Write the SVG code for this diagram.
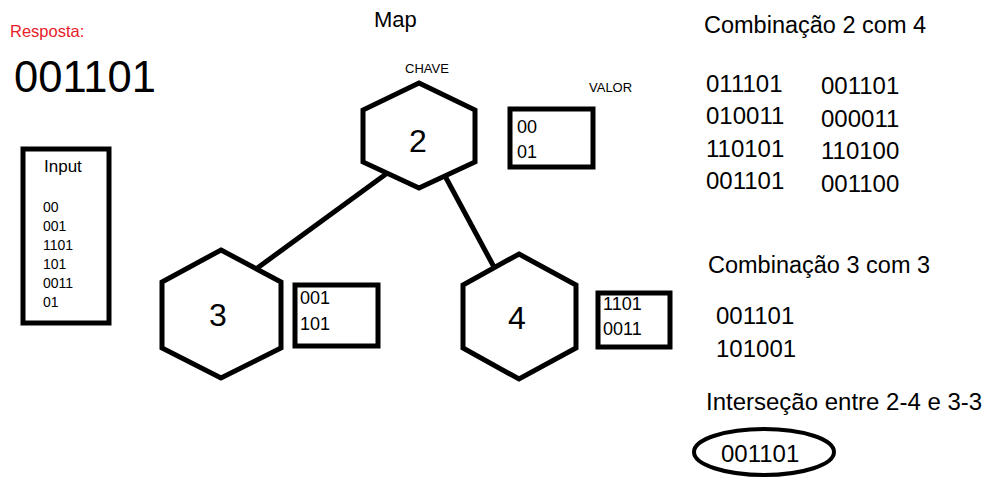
<svg xmlns="http://www.w3.org/2000/svg" width="1001" height="483" viewBox="0 0 1001 483">
<style>
text{font-family:"Liberation Sans",Arial,sans-serif;fill:#000}
.shape{fill:#fff;stroke:#000;stroke-width:5;stroke-linejoin:miter}
.edge{stroke:#000;stroke-width:5;fill:none}
.hexnum{font-size:32px;text-anchor:middle}
.val{font-size:18px}
.inp{font-size:14px}
.big{font-size:24px}
.head{font-size:23.5px}
.lbl{font-size:13px}
</style>
<rect width="1001" height="483" fill="#fff"/>
<text x="10" y="37" style="font-size:16.5px;fill:#e8202a">Resposta:</text>
<text x="14" y="92" style="font-size:43.5px">001101</text>
<text x="374" y="27" style="font-size:22px">Map</text>
<g id="input">
<rect class="shape" x="23" y="149" width="86" height="174"/>
<text x="44" y="172" style="font-size:17px">Input</text>
<text class="inp" x="43" y="212">00</text>
<text class="inp" x="43" y="231">001</text>
<text class="inp" x="43" y="250">1101</text>
<text class="inp" x="43" y="269">101</text>
<text class="inp" x="43" y="288">0011</text>
<text class="inp" x="43" y="307">01</text>
</g>
<g id="connectors">
<line class="edge" x1="386" y1="174" x2="256" y2="269"/>
<line class="edge" x1="445" y1="176" x2="494" y2="267"/>
</g>
<g id="node2">
<text class="lbl" x="405" y="73">CHAVE</text>
<polygon class="shape" points="419,83 475,110 475,162 419,188 363,162 363,110"/>
<text class="hexnum" x="418" y="152">2</text>
</g>
<g id="value2">
<text class="lbl" x="589" y="92">VALOR</text>
<rect class="shape" x="510" y="109" width="83" height="58"/>
<text class="val" x="517" y="133">00</text>
<text class="val" x="517" y="158">01</text>
</g>
<g id="node3">
<polygon class="shape" points="221,250 281,282 281,348 221,378 162,348 162,282"/>
<text class="hexnum" x="218" y="326">3</text>
</g>
<g id="value3">
<rect class="shape" x="295" y="285" width="83" height="61"/>
<text class="val" x="300" y="304">001</text>
<text class="val" x="300" y="330">101</text>
</g>
<g id="node4">
<polygon class="shape" points="519,254 576,285 576,348 519,379 463,348 463,285"/>
<text class="hexnum" x="517" y="329">4</text>
</g>
<g id="value4">
<rect class="shape" x="598" y="293" width="72" height="54"/>
<text class="val" x="603" y="310">1101</text>
<text class="val" x="603" y="335">0011</text>
</g>
<g id="comb24">
<text class="head" x="704" y="33">Combinação 2 com 4</text>
<text class="big" x="706" y="92">011101</text>
<text class="big" x="706" y="124">010011</text>
<text class="big" x="706" y="157">110101</text>
<text class="big" x="706" y="189">001101</text>
<text class="big" x="821" y="94">001101</text>
<text class="big" x="821" y="127">000011</text>
<text class="big" x="821" y="159">110100</text>
<text class="big" x="821" y="192">001100</text>
</g>
<g id="comb33">
<text class="head" x="708" y="273">Combinação 3 com 3</text>
<text class="big" x="716" y="324">001101</text>
<text class="big" x="716" y="357">101001</text>
</g>
<g id="intersecao">
<text class="head" x="706" y="410" style="font-size:24px">Interseção entre 2-4 e 3-3</text>
<ellipse cx="764" cy="452" rx="70" ry="23" fill="none" stroke="#000" stroke-width="4"/>
<text class="big" x="721" y="462">001101</text>
</g>
</svg>
